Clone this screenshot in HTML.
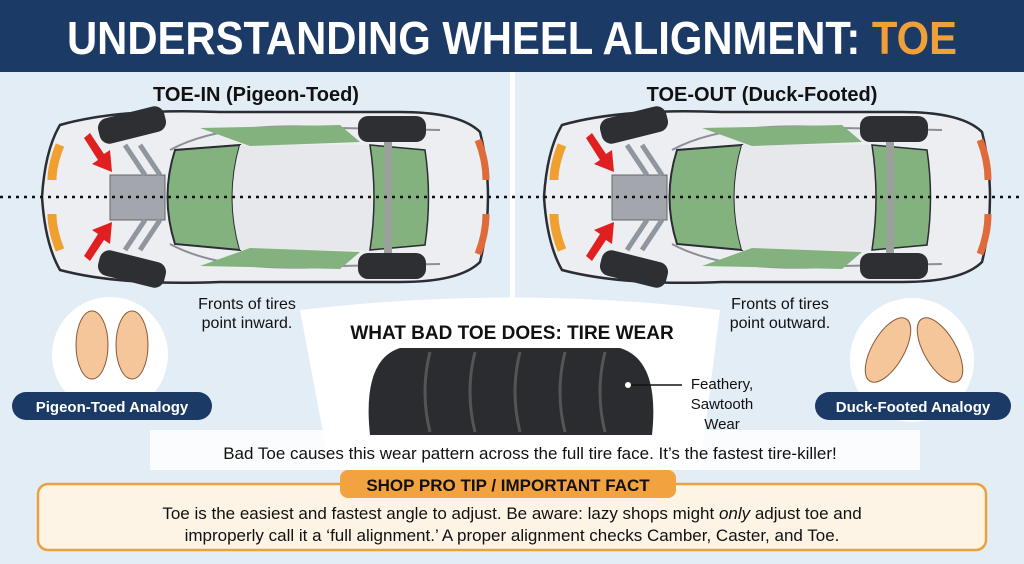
<!DOCTYPE html>
<html><head><meta charset="utf-8"><style>
body{margin:0;width:1024px;height:559px;overflow:hidden;font-family:"Liberation Sans",sans-serif;background:#e3edf6}
</style></head><body>
<svg width="1024" height="559" viewBox="0 0 1024 559" xmlns="http://www.w3.org/2000/svg" font-family="Liberation Sans, sans-serif">
<defs>
<g id="car">
 <path d="M60,125 Q45,150 42,197 Q45,244 60,270 Q120,286 220,282 L400,282 Q460,282 480,262 Q488,230 488,197 Q488,164 480,132 Q460,112 400,112 L220,112 Q120,108 60,125Z" fill="#eceef1" stroke="#2a2d33" stroke-width="2.5"/>
 <path d="M170,150 Q225,120 340,128 L440,130 M170,244 Q225,274 340,266 L440,264" fill="none" stroke="#8a8f98" stroke-width="2"/>
 <path d="M175,150 Q160,197 175,244 L240,250 Q225,197 240,145Z" fill="#84b27f" stroke="#2a2d33" stroke-width="2"/>
 <path d="M240,145 Q225,197 240,250 L370,250 Q378,197 370,145Z" fill="#e6e8eb"/>
 <path d="M370,145 Q378,197 370,250 L425,245 Q432,197 425,150Z" fill="#84b27f" stroke="#2a2d33" stroke-width="1.5"/>
 <path d="M200,128 L340,125 L360,142 L250,146Z M200,266 L340,269 L360,252 L250,248Z" fill="#84b27f"/>
 <rect x="110" y="175" width="55" height="45" fill="#a3a7ad" stroke="#666" />
 <path d="M125,145 L145,175 M140,145 L160,175 M125,250 L145,220 M140,250 L160,220" stroke="#9096a0" stroke-width="5"/>
 <rect x="384" y="130" width="8" height="135" fill="#9aa19a"/>
 <path d="M60,145 Q52,165 52,180" stroke="#f0a030" stroke-width="9" fill="none"/>
 <path d="M60,250 Q52,230 52,214" stroke="#f0a030" stroke-width="9" fill="none"/>
 <path d="M478,140 Q486,160 486,180" stroke="#e06a3a" stroke-width="7" fill="none"/>
 <path d="M478,254 Q486,234 486,214" stroke="#e06a3a" stroke-width="7" fill="none"/>
 <rect x="358" y="116" width="68" height="26" rx="10" fill="#2d2f33"/>
 <rect x="358" y="253" width="68" height="26" rx="10" fill="#2d2f33"/>
 <rect x="98" y="112" width="68" height="26" rx="10" fill="#2d2f33" transform="rotate(-14 132 125)"/>
 <rect x="98" y="256" width="68" height="26" rx="10" fill="#2d2f33" transform="rotate(14 132 269)"/>
 <path d="M84,138 L98,160 L92,164 L112,172 L110,150 L104,154 L90,133Z" fill="#e02020"/>
 <path d="M84,256 L98,234 L92,230 L112,222 L110,244 L104,240 L90,261Z" fill="#e02020"/>
</g>
</defs>
<rect width="1024" height="72" fill="#1c3a66"/>
<text x="512" y="54" text-anchor="middle" font-size="46" font-weight="bold" fill="#fff" textLength="890" lengthAdjust="spacingAndGlyphs">UNDERSTANDING WHEEL ALIGNMENT: <tspan fill="#f0a038">TOE</tspan></text>
<rect x="510" y="72" width="5" height="230" fill="#fff"/>
<path d="M300,310 Q512,285 720,310 L700,470 L330,470Z" fill="#fff"/>
<rect x="150" y="430" width="770" height="40" fill="#fff" opacity="0.8"/>
<text x="256" y="101" text-anchor="middle" font-size="20" font-weight="bold" fill="#111">TOE-IN (Pigeon-Toed)</text>
<text x="762" y="101" text-anchor="middle" font-size="20" font-weight="bold" fill="#111">TOE-OUT (Duck-Footed)</text>
<use href="#car"/>
<use href="#car" x="502"/>
<line x1="0" y1="197" x2="1024" y2="197" stroke="#111" stroke-width="2.5" stroke-dasharray="3,5"/>
<text x="247" y="309" text-anchor="middle" font-size="16" fill="#111">Fronts of tires</text>
<text x="247" y="328" text-anchor="middle" font-size="16" fill="#111">point inward.</text>
<text x="780" y="309" text-anchor="middle" font-size="16" fill="#111">Fronts of tires</text>
<text x="780" y="328" text-anchor="middle" font-size="16" fill="#111">point outward.</text>
<text x="512" y="339" text-anchor="middle" font-size="19" font-weight="bold" fill="#111">WHAT BAD TOE DOES: TIRE WEAR</text>
<path d="M370,435 Q362,360 400,348 L620,348 Q660,360 652,435Z" fill="#2a2c30"/>
<g stroke="#555" stroke-width="3" fill="none">
<path d="M430,352 Q420,392 430,432"/><path d="M475,352 Q465,392 475,432"/><path d="M520,352 Q510,392 520,432"/><path d="M565,352 Q555,392 565,432"/><path d="M605,352 Q595,392 605,432"/>
</g>
<line x1="628" y1="385" x2="682" y2="385" stroke="#111" stroke-width="1.5"/>
<circle cx="628" cy="385" r="3" fill="#fff"/>
<text x="722" y="389" text-anchor="middle" font-size="15" fill="#111">Feathery,</text>
<text x="722" y="409" text-anchor="middle" font-size="15" fill="#111">Sawtooth</text>
<text x="722" y="429" text-anchor="middle" font-size="15" fill="#111">Wear</text>
<text x="530" y="459" text-anchor="middle" font-size="17" fill="#111">Bad Toe causes this wear pattern across the full tire face. It’s the fastest tire-killer!</text>
<circle cx="110" cy="355" r="58" fill="#fff"/>
<ellipse cx="92" cy="345" rx="16" ry="34" fill="#f5c69a" stroke="#8a5a3a"/>
<ellipse cx="132" cy="345" rx="16" ry="34" fill="#f5c69a" stroke="#8a5a3a"/>
<circle cx="912" cy="360" r="62" fill="#fff"/>
<ellipse cx="888" cy="350" rx="16" ry="36" fill="#f5c69a" stroke="#8a5a3a" transform="rotate(30 888 350)"/>
<ellipse cx="940" cy="350" rx="16" ry="36" fill="#f5c69a" stroke="#8a5a3a" transform="rotate(-30 940 350)"/>
<rect x="12" y="392" width="200" height="28" rx="14" fill="#1c3a66"/>
<text x="112" y="412" text-anchor="middle" font-size="15" font-weight="bold" fill="#fff">Pigeon-Toed Analogy</text>
<rect x="815" y="392" width="196" height="28" rx="14" fill="#1c3a66"/>
<text x="913" y="412" text-anchor="middle" font-size="15" font-weight="bold" fill="#fff">Duck-Footed Analogy</text>
<rect x="38" y="484" width="948" height="66" rx="10" fill="#fdf4e6" stroke="#eca23c" stroke-width="2.5"/>
<rect x="340" y="470" width="336" height="28" rx="8" fill="#f2a23e"/>
<text x="508" y="491" text-anchor="middle" font-size="17" font-weight="bold" fill="#111">SHOP PRO TIP / IMPORTANT FACT</text>
<text x="512" y="519" text-anchor="middle" font-size="17" fill="#111">Toe is the easiest and fastest angle to adjust. Be aware: lazy shops might <tspan font-style="italic">only</tspan> adjust toe and</text>
<text x="512" y="541" text-anchor="middle" font-size="17" fill="#111">improperly call it a ‘full alignment.’ A proper alignment checks Camber, Caster, and Toe.</text>
</svg>
</body></html>
